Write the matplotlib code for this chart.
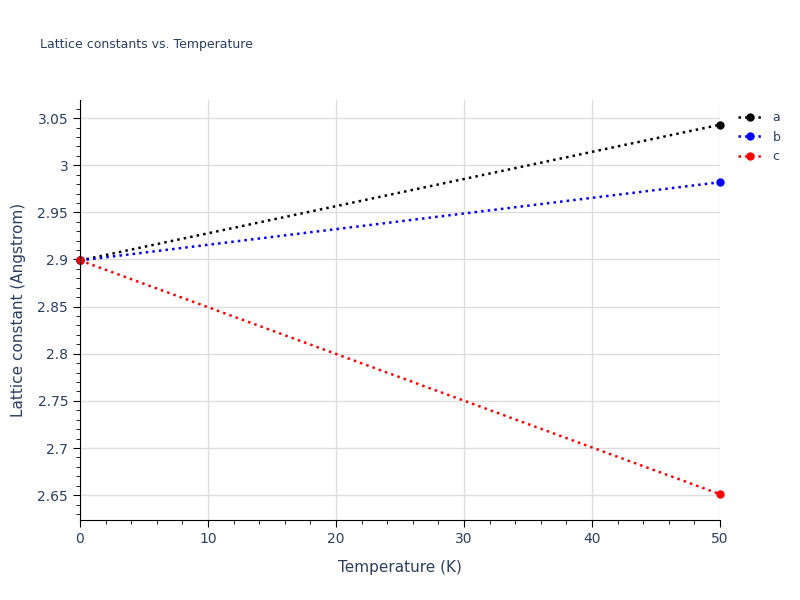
import matplotlib.pyplot as plt
from matplotlib.ticker import MultipleLocator, FuncFormatter

temps = [0, 50]
lat_a = [2.899, 3.043]
lat_b = [2.899, 2.982]
lat_c = [2.899, 2.651]
series = [('a', lat_a, 'black'), ('b', lat_b, 'blue'), ('c', lat_c, 'red')]

fig = plt.figure(figsize=(8, 6), dpi=100)
ax = fig.add_axes([0.1, 0.133, 0.8, 0.7])
txt = '#2a3f5f'
for name, vals, col in series:
    ax.plot(temps, vals, ':', color=col, lw=1.8, marker='o', ms=5, label=name, clip_on=False)

ax.set_xlim(0, 50)
ax.set_ylim(2.6234, 3.069)
ax.xaxis.set_major_locator(MultipleLocator(10))
ax.yaxis.set_major_locator(MultipleLocator(0.05))
ax.xaxis.set_minor_locator(MultipleLocator(2))
ax.yaxis.set_minor_locator(MultipleLocator(0.01))
ax.yaxis.set_major_formatter(FuncFormatter(lambda v, p: ('%.2f' % v).rstrip('0').rstrip('.')))
ax.grid(True, which='major', color='#dddddd', lw=1)
ax.set_axisbelow(True)
for s in ['top', 'right']:
    ax.spines[s].set_visible(False)
for s in ['left', 'bottom']:
    ax.spines[s].set_color('black')
ax.tick_params(which='both', colors=txt, labelsize=10)
ax.tick_params(which='major', length=5, color='black')
ax.tick_params(which='minor', length=3, color='black')
ax.set_xlabel('Temperature (K)', color=txt, fontsize=11, labelpad=10)
ax.set_ylabel('Lattice constant (Angstrom)', color=txt, fontsize=11, labelpad=8)
fig.text(0.05, 0.92, 'Lattice constants vs. Temperature', color=txt, fontsize=9)
ax.legend(loc='upper left', bbox_to_anchor=(1.01, 1.0), frameon=False,
          labelcolor=txt, fontsize=9, handlelength=2)
fig.savefig('out.png')
